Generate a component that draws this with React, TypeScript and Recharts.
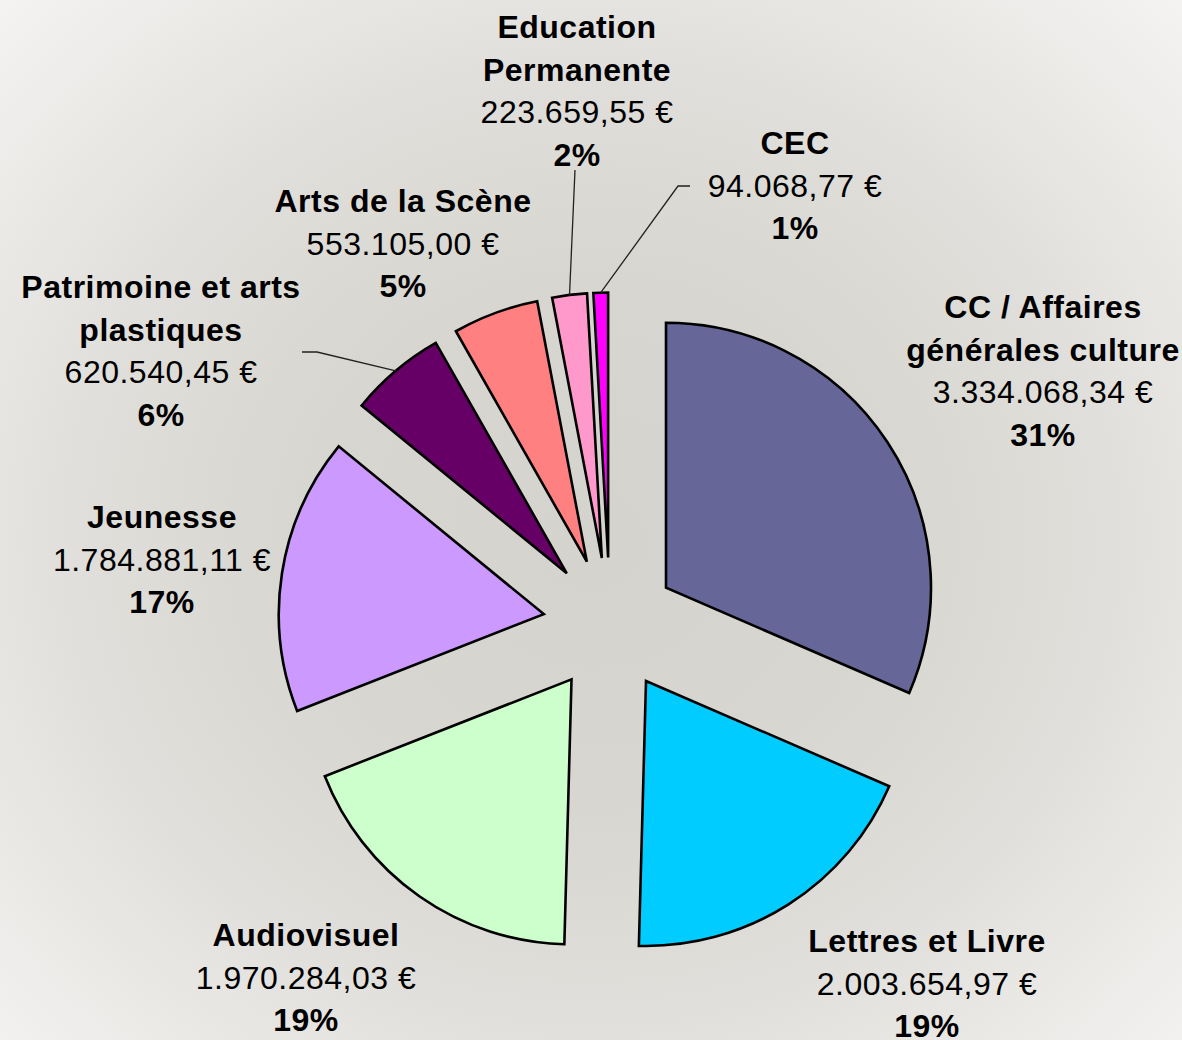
import React from 'react';
import { PieChart, Pie, Cell } from 'recharts';

const categories = [
  'CC / Affaires générales culture',
  'Lettres et Livre',
  'Audiovisuel',
  'Jeunesse',
  'Patrimoine et arts plastiques',
  'Arts de la Scène',
  'Education Permanente',
  'CEC',
];

const titleLines = [
  ['CC / Affaires', 'générales culture'],
  ['Lettres et Livre'],
  ['Audiovisuel'],
  ['Jeunesse'],
  ['Patrimoine et arts', 'plastiques'],
  ['Arts de la Scène'],
  ['Education', 'Permanente'],
  ['CEC'],
];

const values = [3334068.34, 2003654.97, 1970284.03, 1784881.11, 620540.45, 553105.0, 223659.55, 94068.77];

const percentLabels = ['31%', '19%', '19%', '17%', '6%', '5%', '2%', '1%'];

const colors = ['#666699', '#00CCFF', '#CCFFCC', '#CC99FF', '#660066', '#FF8080', '#FF99CC', '#FF00FF'];

// label layout (Excel-style manual placement): centre x, first baseline y, leader anchor points
const labelLayout: { x: number; y: number; leader?: number[][] }[] = [
  { x: 1043, y: 318 },
  { x: 927, y: 952 },
  { x: 306, y: 946 },
  { x: 162, y: 528 },
  { x: 161, y: 298, leader: [[302, 352], [317, 352]] },
  { x: 403, y: 212 },
  { x: 577, y: 38, leader: [[575, 170]] },
  { x: 795, y: 154, leader: [[690, 186], [678, 186]] },
];

const W = 1182;
const H = 1040;
const CX = 610;
const CY = 624.5;
const R = 265;
const EXPLODE = 67;
const LINE = 42.6;
const RAD = Math.PI / 180;
const FONT = '"Liberation Sans", Arial, Helvetica, sans-serif';

const total = values.reduce((a, b) => a + b, 0);
const data = categories.map((name, i) => ({ name, value: values[i] }));

const midTheta = values.map((v, i) => {
  const cum = values.slice(0, i).reduce((a, b) => a + b, 0);
  return ((cum + v / 2) / total) * 360;
});

function fmtEuro(v: number) {
  const [intPart, dec] = v.toFixed(2).split('.');
  return intPart.replace(/\B(?=(\d{3})+(?!\d))/g, '.') + ',' + dec + ' €';
}

const makeLabel = (k: number) => (props: any) => {
  if (props.index !== k) return null;
  const { cx, cy, midAngle, outerRadius } = props;
  const ax = cx + outerRadius * Math.cos(-midAngle * RAD);
  const ay = cy + outerRadius * Math.sin(-midAngle * RAD);
  const lay = labelLayout[k];
  const lines: { t: string; bold: boolean }[] = [
    ...titleLines[k].map((t) => ({ t, bold: true })),
    { t: fmtEuro(values[k]), bold: false },
    { t: percentLabels[k], bold: true },
  ];
  return (
    <g key={'lbl' + k}>
      {lay.leader && (
        <polyline
          points={[...lay.leader, [ax, ay]].map((p) => p.join(',')).join(' ')}
          fill="none"
          stroke="#222"
          strokeWidth={1.3}
        />
      )}
      {lines.map((l, j) => (
        <text
          key={j}
          x={lay.x}
          y={lay.y + j * LINE}
          textAnchor="middle"
          fontFamily={FONT}
          fontSize={32}
          fontWeight={l.bold ? 'bold' : 'normal'}
          letterSpacing={0.5}
          fill="#000"
        >
          {l.t}
        </text>
      ))}
    </g>
  );
};

export default function App() {
  return (
    <div
      style={{
        position: 'absolute',
        left: 0,
        top: 0,
        width: W,
        height: H,
        background:
          'radial-gradient(ellipse farthest-corner at 50% 52%, #d5d3cd 0%, #d8d6d0 35%, #e0deda 60%, #efeeec 90%, #f4f3f1 100%)',
      }}
    >
      <PieChart width={W} height={H} margin={{ top: 0, right: 0, bottom: 0, left: 0 }}>
        {values.map((_, k) => (
          <Pie
            key={k}
            data={data}
            dataKey="value"
            nameKey="name"
            cx={CX + EXPLODE * Math.sin(midTheta[k] * RAD)}
            cy={CY - EXPLODE * Math.cos(midTheta[k] * RAD)}
            outerRadius={R}
            innerRadius={0}
            startAngle={90}
            endAngle={-270}
            isAnimationActive={false}
            label={makeLabel(k)}
            labelLine={false}
          >
            {data.map((_, i) => (
              <Cell
                key={i}
                fill={i === k ? colors[i] : 'none'}
                stroke={i === k ? '#000' : 'none'}
                strokeWidth={2.6}
                strokeLinejoin="miter"
              />
            ))}
          </Pie>
        ))}
      </PieChart>
    </div>
  );
}
